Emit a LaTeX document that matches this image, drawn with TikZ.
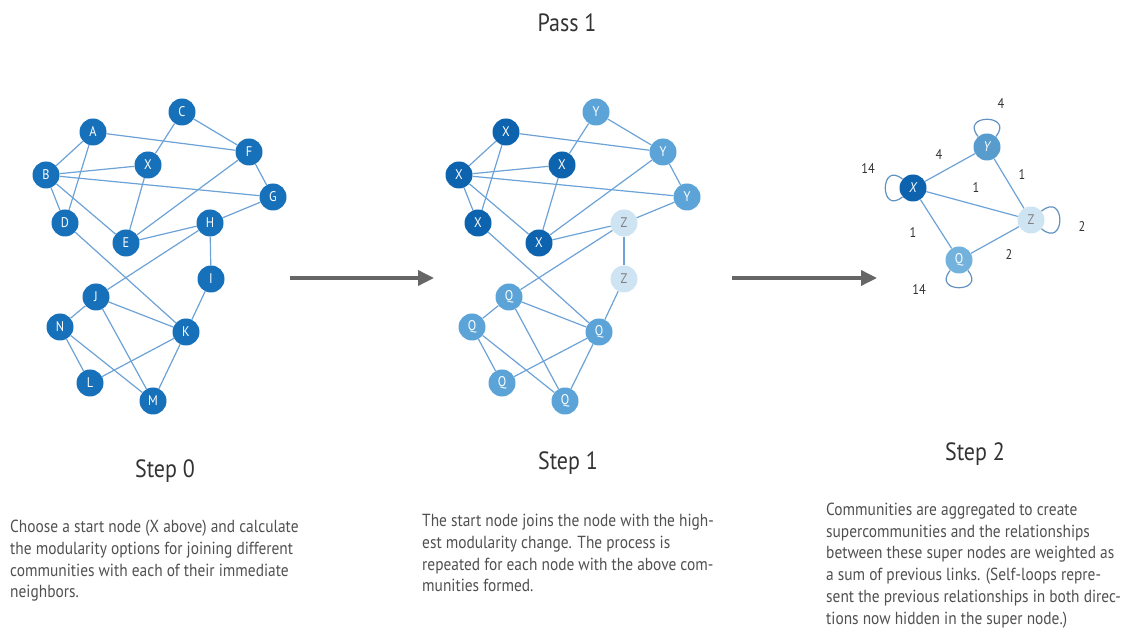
\documentclass[tikz,border=0pt]{standalone}
\usepackage{fontspec}
\setmainfont[FakeStretch=0.88]{PT Sans}
\usetikzlibrary{arrows.meta}
\definecolor{nodeA}{HTML}{1770BA}
\definecolor{darkX}{HTML}{0D63AD}
\definecolor{midY}{HTML}{5CA4D8}
\definecolor{lightZ}{HTML}{CFE4F3}
\definecolor{edgeC}{HTML}{6CA2D6}
\definecolor{arrowC}{HTML}{666666}
\definecolor{txtC}{HTML}{505050}
\definecolor{titleC}{HTML}{333333}
\tikzset{
  gnode/.style={circle,minimum size=27pt,inner sep=0pt,text=white,font=\fontsize{14}{14}\selectfont},
  n0/.style={gnode,fill=nodeA},
  nx/.style={gnode,fill=darkX},
  ny/.style={gnode,fill=midY},
  nz/.style={gnode,fill=lightZ,text=gray},
  lnk/.style={draw=edgeC,line width=1.2pt},
  selfloop/.style={draw=edgeC!90!black,line width=1.2pt},
  bigarrow/.style={draw=arrowC,line width=3.5pt,-{Triangle[length=16pt,width=15pt]}},
  title/.style={text=titleC,font=\fontsize{25}{25}\selectfont,anchor=base,inner sep=0pt},
  para/.style={text=txtC,font=\fontsize{17.5}{21.7}\selectfont,align=left,anchor=base west,inner sep=0pt},
  wlabel/.style={text=titleC,font=\fontsize{14}{14}\selectfont,inner sep=0pt}
}
\begin{document}
\begin{tikzpicture}[x=1pt,y=1pt]
\useasboundingbox (0,0) rectangle (1130,640);

% ---------- Step 0 graph ----------
\node[n0] (A) at (93,508) {A};
\node[n0] (B) at (46,465) {B};
\node[n0] (C) at (182,528) {C};
\node[n0] (D) at (65,417) {D};
\node[n0] (E) at (126,397) {E};
\node[n0] (F) at (249,488) {F};
\node[n0] (G) at (273,443) {G};
\node[n0] (H) at (210,417) {H};
\node[n0] (I) at (211,361) {I};
\node[n0] (J) at (96,343) {J};
\node[n0] (K) at (186,308) {K};
\node[n0] (L) at (90,257) {L};
\node[n0] (M) at (153,239) {M};
\node[n0] (N) at (60,313) {N};
\node[n0] (X) at (148,475) {X};
\foreach \u/\v in {A/B,A/D,A/F,C/X,C/F,B/X,B/G,B/D,B/E,X/E,F/E,F/G,G/H,H/E,H/I,H/J,D/K,I/K,J/K,J/N,J/M,N/L,N/M,K/L,K/M}
  \draw[lnk] (\u) -- (\v);

% ---------- Step 1 graph ----------
\node[nx] (pA) at (506,508) {X};
\node[nx] (pB) at (459,465) {X};
\node[ny] (pC) at (596,528) {Y};
\node[nx] (pD) at (478,417) {X};
\node[nx] (pE) at (539,397) {X};
\node[ny] (pF) at (663,488) {Y};
\node[ny] (pG) at (687,443) {Y};
\node[nz] (pH) at (624,417) {Z};
\node[nz] (pI) at (624,361) {Z};
\node[ny] (pJ) at (509,343) {Q};
\node[ny] (pK) at (599,308) {Q};
\node[ny] (pL) at (502,257) {Q};
\node[ny] (pM) at (565,239) {Q};
\node[ny] (pN) at (472,313) {Q};
\node[nx] (pX) at (562,475) {X};
\foreach \u/\v in {A/B,A/D,A/F,C/X,C/F,B/X,B/G,B/D,B/E,X/E,F/E,F/G,G/H,H/E,H/I,H/J,D/K,I/K,J/K,J/N,J/M,N/L,N/M,K/L,K/M}
  \draw[lnk] (p\u) -- (p\v);

% ---------- Step 2 graph ----------
\node[nx,font=\fontsize{14}{14}\selectfont\itshape] (gX) at (913,452) {X};
\node[ny,fill=midY!95!black,font=\fontsize{14}{14}\selectfont\itshape] (gY) at (987,493) {Y};
\node[nz] (gZ) at (1031,420) {Z};
\node[ny,fill=midY!85!white] (gQ) at (959,380) {Q};
\draw[lnk] (gX) -- (gY);
\draw[lnk] (gX) -- (gZ);
\draw[lnk] (gX) -- (gQ);
\draw[lnk] (gY) -- (gZ);
\draw[lnk] (gQ) -- (gZ);
\draw[selfloop] (gY) to[out=130,in=50,min distance=30pt] (gY);
\draw[selfloop] (gX) to[out=220,in=140,min distance=30pt] (gX);
\draw[selfloop] (gZ) to[out=40,in=-40,min distance=32pt] (gZ);
\draw[selfloop] (gQ) to[out=-50,in=-130,min distance=30pt] (gQ);
\node[wlabel] (w1) at (1001,536) {4};
\node[wlabel] (w2) at (939,485) {4};
\node[wlabel] (w3) at (868,471) {14};
\node[wlabel] (w4) at (1022,465) {1};
\node[wlabel] (w5) at (976,452) {1};
\node[wlabel] (w6) at (913,407) {1};
\node[wlabel] (w7) at (1009,385) {2};
\node[wlabel] (w8) at (1082,413) {2};
\node[wlabel] (w9) at (919,350) {14};

% ---------- arrows ----------
\coordinate (a1s) at (290,362);
\coordinate (a1e) at (434,362);
\coordinate (a2s) at (732,362);
\coordinate (a2e) at (877,362);
\draw[bigarrow] (a1s) -- (a1e);
\draw[bigarrow] (a2s) -- (a2e);

% ---------- titles ----------
\node[title,font=\fontsize{25}{25}\selectfont] (pass) at (567,608) {Pass 1};
\node[title] (s0) at (165,162) {Step 0};
\node[title] (s1) at (568,170) {Step 1};
\node[title] (s2) at (975,179) {Step 2};

% ---------- paragraphs (anchored at the baseline of the last line) ----------
\node[para] (t0) at (10,42) {Choose a start node (X above) and calculate\\the modularity options for joining different\\communities with each of their immediate\\neighbors.};
\node[para] (t1) at (422,48) {The start node joins the node with the high-\\est modularity change. The process is\\repeated for each node with the above com-\\munities formed.};
\node[para] (t2) at (826,16) {Communities are aggregated to create\\supercommunities and the relationships\\between these super nodes are weighted as\\a sum of previous links. (Self-loops repre-\\sent the previous relationships in both direc-\\tions now hidden in the super node.)};
\end{tikzpicture}
\end{document}
